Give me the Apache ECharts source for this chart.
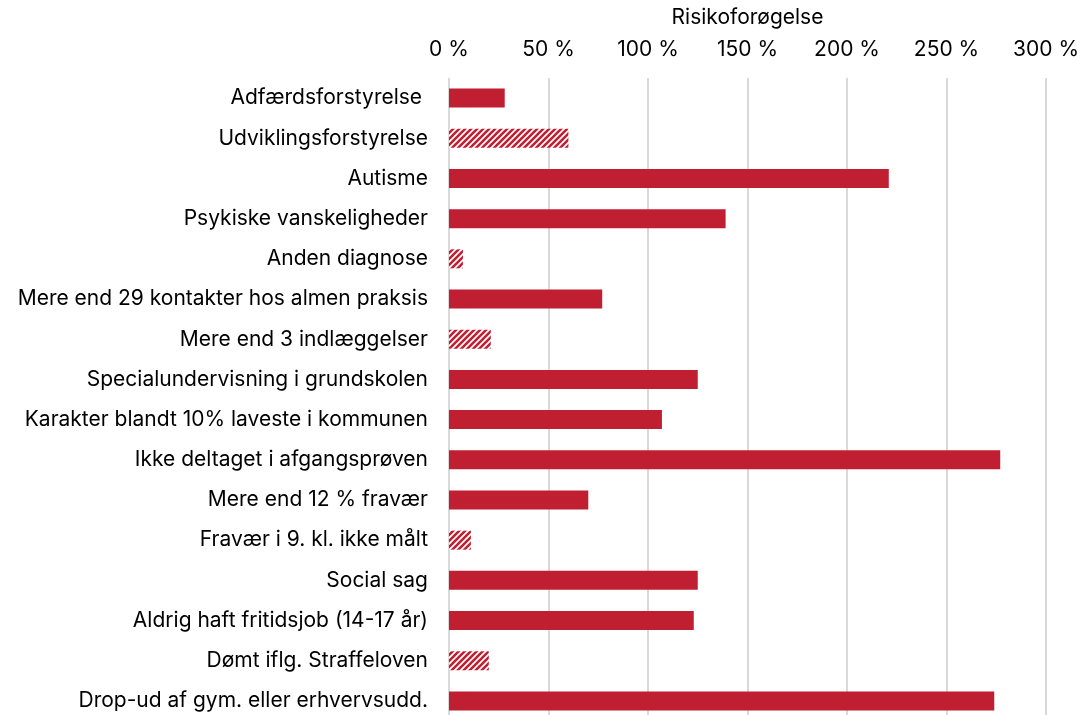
<!DOCTYPE html>
<html lang="da">
<head>
  <meta charset="UTF-8">
  <title>Risikoforøgelse</title>
  <script src="https://cdn.jsdelivr.net/npm/echarts@6/dist/echarts.min.js"></script>
  <style>
    html, body { margin: 0; padding: 0; background: #fff; }
  </style>
</head>
<body>
  <div id="main" style="width: 1080px; height: 715px;"></div>
  <script>
    // kategorier, oppefra og ned
    var categories = [
      'Adfærdsforstyrelse ',
      'Udviklingsforstyrelse',
      'Autisme',
      'Psykiske vanskeligheder',
      'Anden diagnose',
      'Mere end 29 kontakter hos almen praksis',
      'Mere end 3 indlæggelser',
      'Specialundervisning i grundskolen',
      'Karakter blandt 10% laveste i kommunen',
      'Ikke deltaget i afgangsprøven',
      'Mere end 12 % fravær',
      'Fravær i 9. kl. ikke målt',
      'Social sag',
      'Aldrig haft fritidsjob (14-17 år)',
      'Dømt iflg. Straffeloven',
      'Drop-ud af gym. eller erhvervsudd.'
    ];
    // risikoforøgelse i procent
    var values = [28, 60, 221, 139, 7, 77, 21, 125, 107, 277, 70, 11, 125, 123, 20, 274];
    // true = ikke signifikant (skraveret)
    var hatched = [false, true, false, false, true, false, true, false, false, false, false, true, false, false, true, false];

    var red = '#C01F32';

    // skraveret mønster
    function makePattern() {
      var c = document.createElement('canvas');
      c.width = 6; c.height = 6;
      var ctx = c.getContext('2d');
      ctx.fillStyle = '#fff';
      ctx.fillRect(0, 0, 6, 6);
      ctx.strokeStyle = red;
      ctx.lineWidth = 2.6;
      ctx.beginPath();
      ctx.moveTo(-3, 9); ctx.lineTo(9, -3);
      ctx.moveTo(-6, 6); ctx.lineTo(6, -6);
      ctx.moveTo(0, 12); ctx.lineTo(12, 0);
      ctx.stroke();
      return c;
    }
    var pattern = { image: makePattern(), repeat: 'repeat' };

    var barData = values.map(function (v, i) {
      return {
        value: v,
        itemStyle: { color: hatched[i] ? pattern : red }
      };
    });

    var myChart = echarts.init(document.getElementById('main'));

    var option = {
      animation: false,
      textStyle: { fontFamily: 'Inter', color: '#000' },
      grid: { left: 449, right: 34, top: 78, height: 643, outerBoundsMode: 'none' },
      xAxis: {
        type: 'value',
        position: 'top',
        min: 0,
        max: 300,
        interval: 50,
        name: 'Risikoforøgelse',
        nameLocation: 'middle',
        nameGap: 50,
        nameTextStyle: { fontSize: 21, color: '#000', fontFamily: 'Inter' },
        axisLine: { show: false },
        axisTick: { show: false },
        axisLabel: {
          fontSize: 21,
          color: '#000',
          margin: 18,
          formatter: function (v) { return v + ' %'; }
        },
        splitLine: { lineStyle: { color: '#d9d9d9', width: 2 } }
      },
      yAxis: {
        type: 'category',
        data: categories,
        inverse: true,
        axisLine: { show: false },
        axisTick: { show: false },
        axisLabel: { fontSize: 21, color: '#000', margin: 21 }
      },
      series: [{
        type: 'bar',
        data: barData,
        barWidth: 19
      }]
    };

    myChart.setOption(option);
  </script>
</body>
</html>
